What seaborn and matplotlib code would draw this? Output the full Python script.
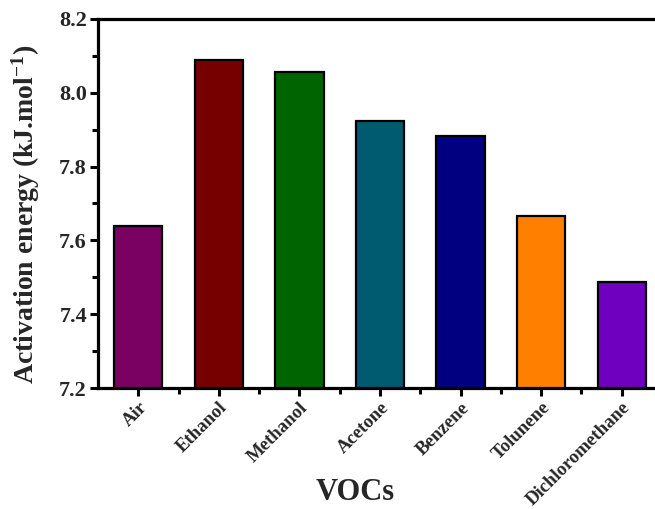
import matplotlib
matplotlib.use("Agg")
import matplotlib.pyplot as plt
from matplotlib.ticker import MultipleLocator, FixedLocator, FormatStrFormatter
import seaborn as sns
import pandas as pd

# Activation energy of the sensor under different VOC atmospheres
vocs = ["Air", "Ethanol", "Methanol", "Acetone", "Benzene", "Tolunene", "Dichloromethane"]
activation_energy = [7.638, 8.089, 8.056, 7.924, 7.884, 7.667, 7.488]
bar_colors = ["#7a0062", "#760000", "#006400", "#005a70", "#000080", "#ff8000", "#7000c0"]

sns.set_style("white")
plt.rcParams["font.family"] = ["Liberation Serif", "DejaVu Serif"]
plt.rcParams["font.weight"] = "bold"
plt.rcParams["mathtext.fontset"] = "custom"
plt.rcParams["mathtext.rm"] = "Liberation Serif:bold"
plt.rcParams["mathtext.bf"] = "Liberation Serif:bold"
plt.rcParams["mathtext.default"] = "bf"

df = pd.DataFrame({"VOC": vocs, "Ea": activation_energy})

fig = plt.figure(figsize=(6.55, 5.09), dpi=100)
ax = fig.add_axes([98 / 655, 1 - 388 / 509, 564 / 655, 369 / 509])

sns.barplot(data=df, x="VOC", y="Ea", hue="VOC", palette=bar_colors,
            legend=False, width=0.6, edgecolor="black", linewidth=1.6,
            saturation=1, ax=ax)

ax.set_xlim(-0.5, len(vocs) - 0.5)
ax.set_ylim(7.2, 8.2)
ax.yaxis.set_major_locator(MultipleLocator(0.2))
ax.yaxis.set_minor_locator(MultipleLocator(0.1))
ax.xaxis.set_minor_locator(FixedLocator([i + 0.5 for i in range(len(vocs) - 1)]))
ax.yaxis.set_major_formatter(FormatStrFormatter("%.1f"))

for s in ax.spines.values():
    s.set_linewidth(2.3)
    s.set_color("black")

ax.tick_params(axis="both", which="major", direction="out", length=6, width=2.2,
               color="black", labelsize=16, pad=2, bottom=True, left=True)
ax.tick_params(axis="both", which="minor", direction="out", length=4, width=2.2,
               color="black", bottom=True, left=True)
for lab in ax.get_yticklabels():
    lab.set_fontweight("bold")
ax.set_xticks(range(len(vocs)))
ax.set_xticklabels(vocs, rotation=45, ha="right", rotation_mode="anchor",
                   fontsize=13.5, fontweight="bold")
for lab in ax.get_xticklabels():
    lab.set_va("top")

ax.set_xlabel("VOCs", fontsize=22, fontweight="bold")
ax.xaxis.set_label_coords(0.456, -0.243)
ax.set_ylabel(r"Activation energy (kJ.mol$^{-1}$)", fontsize=20, fontweight="bold")
ax.yaxis.set_label_coords(-0.1, 0.47)

fig.savefig("out.png", dpi=100)
